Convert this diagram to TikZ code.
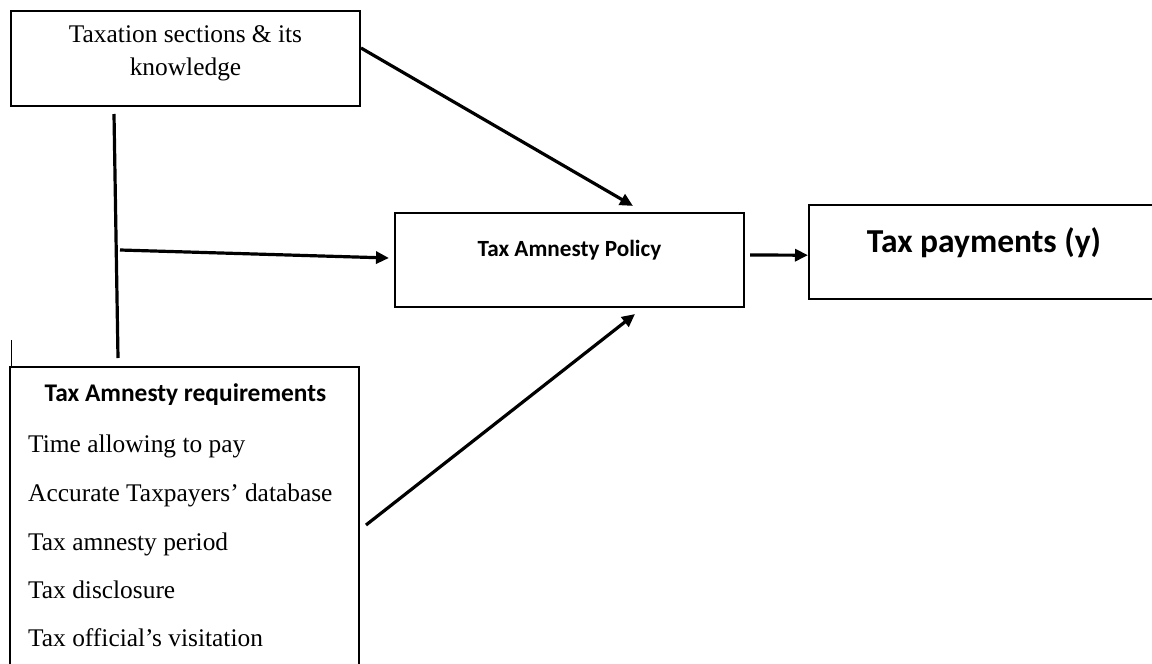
\documentclass[tikz,border=0pt]{standalone}
\usepackage{fontspec}
\setmainfont{Liberation Serif}
\newfontfamily\calib{Carlito}
\usetikzlibrary{arrows.meta}
\begin{document}
\begin{tikzpicture}[x=1pt,y=-1pt,
  boxline/.style={draw=black,line width=2.1pt,inner sep=0pt},
  hidden/.style={inner sep=0pt},
  conn/.style={line width=3.2pt},
  arr/.style={conn,-{Triangle[length=13pt,width=12pt]}},
  serif/.style={font=\fontsize{25.4}{32.5}\selectfont,inner sep=0pt},
  sansb/.style={font=\calib\bfseries\fontsize{25.4}{30}\selectfont,inner sep=0pt}]
\useasboundingbox[fill=white] (0,0) rectangle (1152,664);

% Taxation sections box
\node[boxline,minimum width=349pt,minimum height=95pt,anchor=north west] (know) at (10,10) {};
\node[serif,anchor=base] (knowA) at (185.5,42.7) {Taxation sections \& its};
\node[serif,anchor=base] (knowB) at (185.5,75.2) {knowledge};

% Tax Amnesty Policy box
\node[boxline,minimum width=349pt,minimum height=94pt] (pol) at (569.5,260) {};
\node[font=\calib\bfseries\fontsize{23.2}{28}\selectfont,inner sep=0pt,anchor=base] (poltxt) at (569.5,256) {Tax Amnesty Policy};

% Tax payments box (open at right edge)
\node[hidden,minimum width=343pt,minimum height=94pt,anchor=north west] (pay) at (809,205) {};
\draw[line width=2.1pt] (pay.north east) -- (pay.north west) -- (pay.south west) -- (pay.south east);
\node[font=\calib\bfseries\fontsize{33.5}{40}\selectfont,inner sep=0pt,anchor=base] (paytxt) at (984,252.7) {Tax payments (y)};

% Tax Amnesty requirements box (open at bottom edge)
\node[hidden,minimum width=349pt,minimum height=297pt,anchor=north west] (req) at (10,367) {};
\draw[line width=2.1pt] (req.south west) -- (req.north west) -- (req.north east) -- (req.south east);
\node[sansb,anchor=base] (reqT) at (185.5,401.7) {Tax Amnesty requirements};
\node[serif,anchor=base west] (req1) at (28,452) {Time allowing to pay};
\node[serif,anchor=base west] (req2) at (28,501) {Accurate Taxpayers’ database};
\node[serif,anchor=base west] (req3) at (28,550) {Tax amnesty period};
\node[serif,anchor=base west] (req4) at (28,598) {Tax disclosure};
\node[serif,anchor=base west] (req5) at (28,646) {Tax official’s visitation};

% small stray stroke above the requirements box
\coordinate (strayA) at (11,340);
\coordinate (strayB) at (11,367);
\draw[line width=0.9pt] (strayA) -- (strayB);

% connectors
\coordinate (vtop) at (114,114);
\coordinate (vbot) at (118,358);
\draw[conn] (vtop) -- (vbot);
\coordinate (hstart) at (120,250);
\draw[arr] (hstart) -- ([xshift=-5pt,yshift=2pt]pol.west);
\coordinate (dstart) at (361,48);
\draw[arr] (dstart) -- ([xshift=63.5pt,yshift=6pt]pol.north);
\coordinate (ustart) at (366,525);
\draw[arr] (ustart) -- ([xshift=65.5pt,yshift=-6pt]pol.south);
\draw[arr] ([xshift=5pt,yshift=5pt]pol.east) -- ([xshift=-1pt,yshift=-3pt]pay.west);
\end{tikzpicture}
\end{document}
